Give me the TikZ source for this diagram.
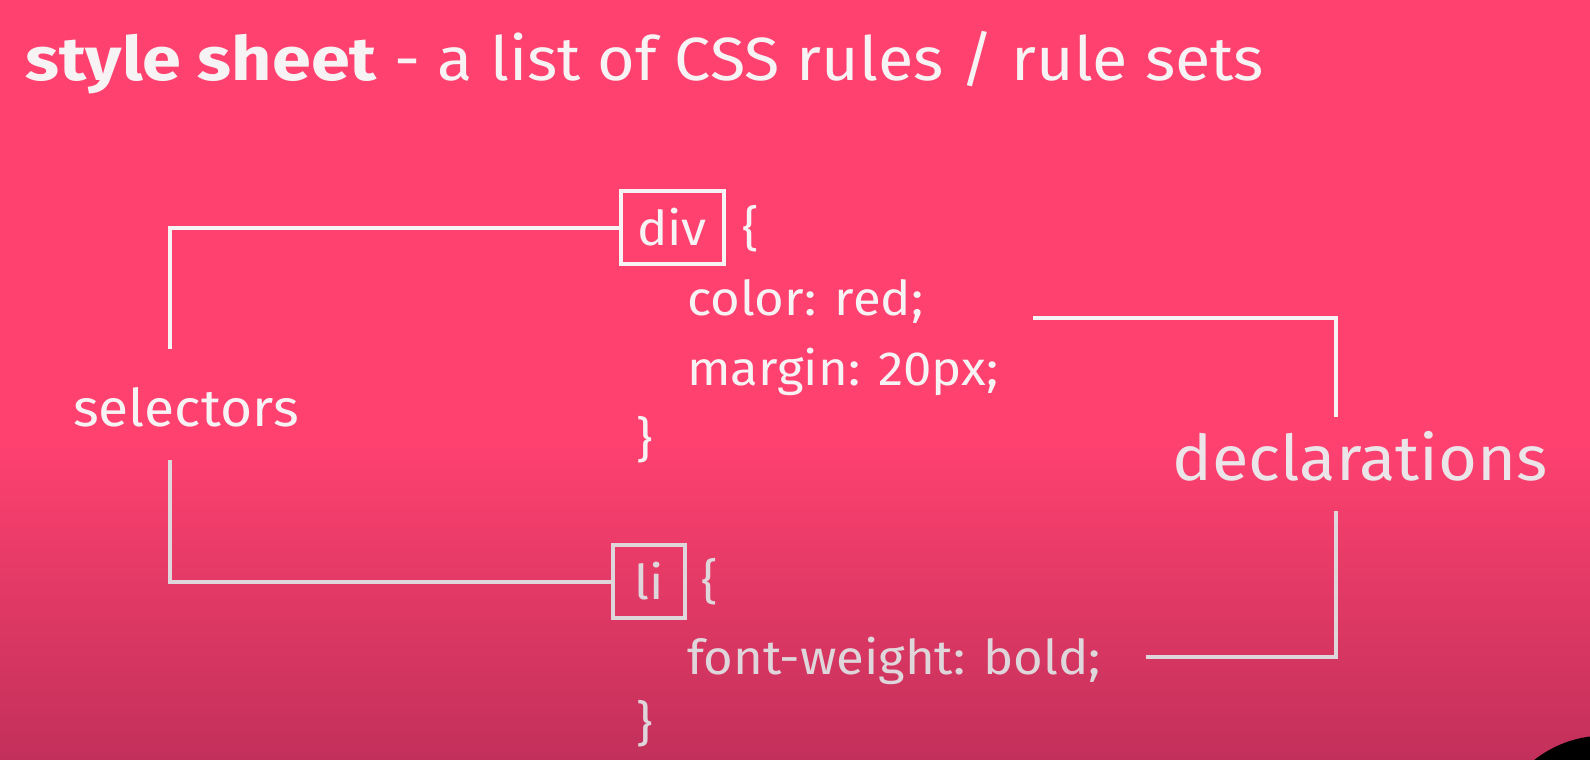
\documentclass[tikz,border=0pt]{standalone}
\usepackage{fontspec}
\setmainfont{Fira Sans}[FakeStretch=1.06, BoldFeatures={FakeStretch=1.15}]
\usepackage{xcolor}
\usepackage{tikz}
\usetikzlibrary{positioning}
\usetikzlibrary{backgrounds}

\definecolor{bgtop}{HTML}{FF4170}
\definecolor{bgbot}{HTML}{C2305A}
\definecolor{ink}{HTML}{F7F3F5}
\definecolor{inkdim}{HTML}{DED6DA}

\begin{document}
\begin{tikzpicture}[
    x=1pt, y=-1pt,
    code/.style={inner sep=0pt, text=ink, font=\fontsize{48}{48}\selectfont},
    selbox/.style={draw=ink, line width=4pt, rectangle, inner sep=0pt,
                   minimum height=73pt, text=ink, font=\fontsize{48}{48}\selectfont},
    label/.style={inner sep=0pt, text=ink},
    link/.style={draw=ink, line width=4pt, line join=miter}
  ]
    \useasboundingbox (0,0) rectangle (1590,760);

    % Titre
    \node[label, anchor=base west, font=\fontsize{61}{61}\selectfont] (title) at (25,81)
      {\textbf{style sheet} - a list of CSS rules / rule sets};

    % Premiere regle : div
    \node[selbox, minimum width=103pt] (divsel) at (672,227.5) {div};
    \node[code, anchor=base west] (open1) at (742,245) {\{};
    \node[code, anchor=base west] (colorln) at (687,315) {color: red;};
    \node[code, anchor=base west] (marginln) at (687,385) {margin: 20px;};
    \node[code, anchor=base west] (close1) at (636,456) {\}};

    % Deuxieme regle : li
    \node[selbox, draw=inkdim, text=inkdim, minimum width=72pt] (lisel) at (649,581.5) {li};
    \node[code, text=inkdim, right=14pt of lisel] (open2) {\{};
    \node[code, text=inkdim, anchor=base west] (weightln) at (687,674) {font-weight: bold;};
    \node[code, text=inkdim, anchor=base west] (close2) at (636,740) {\}};

    % Etiquettes laterales
    \node[label, anchor=base west, font=\fontsize{52}{52}\selectfont] (selectors) at (73,426) {selectors};
    \node[label, text=inkdim!50!ink, anchor=base west, font=\fontsize{63}{63}\selectfont] (declarations) at (1172,480) {declarations};

    \begin{pgfonlayer}{background}
      % Fond
      \fill[bgtop] (0,0) rectangle (1590,440);
      \shade[top color=bgtop, bottom color=bgbot] (0,439) rectangle (1590,760);
      \fill[black] (1605,850) circle (114.5);

      % Selecteurs
      \draw[link] (selectors.north -| 170,0) ++(0,-38) |- (divsel.west);
      \draw[link, draw=inkdim] (selectors.south -| 170,0) ++(0,33) |- (lisel.west);

      % Declarations
      \draw[link] ([xshift=109pt, yshift=-3pt]colorln.base east) -| ([xshift=-24pt, yshift=14pt]declarations.north);
      \draw[link, draw=inkdim] ([xshift=45pt, yshift=17pt]weightln.base east) -| ([xshift=-24pt, yshift=-30pt]declarations.south);
    \end{pgfonlayer}

  \end{tikzpicture}
\end{document}
